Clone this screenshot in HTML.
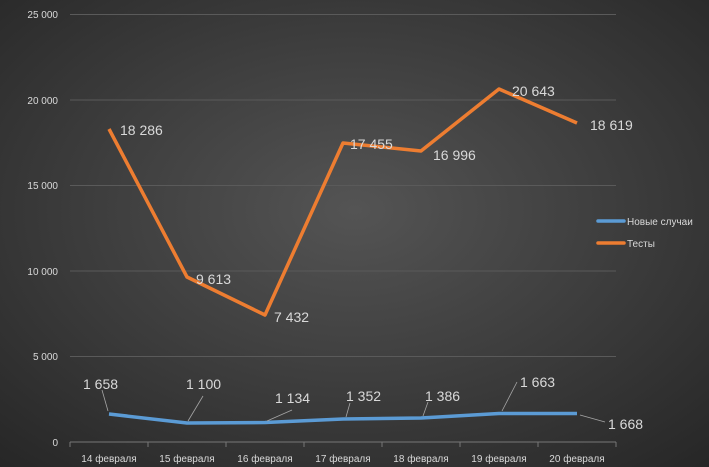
<!DOCTYPE html>
<html><head><meta charset="utf-8"><style>
html,body{margin:0;padding:0;width:709px;height:467px;overflow:hidden;background:#333}
svg{display:block}
text{font-family:"Liberation Sans",Arial,sans-serif}
</style></head><body>
<svg width="709" height="467" viewBox="0 0 709 467">
<defs>
<radialGradient id="bg" cx="50%" cy="45%" r="75%">
<stop offset="0" stop-color="#545454"/>
<stop offset="1" stop-color="#262626"/>
</radialGradient>
</defs>
<rect width="709" height="467" fill="url(#bg)"/>
<g stroke="#5a5a5a" stroke-width="1">
<line x1="70" x2="616" y1="14.5" y2="14.5"/>
<line x1="70" x2="616" y1="100" y2="100"/>
<line x1="70" x2="616" y1="185.5" y2="185.5"/>
<line x1="70" x2="616" y1="271" y2="271"/>
<line x1="70" x2="616" y1="356.5" y2="356.5"/>
</g>
<g stroke="#777" stroke-width="1">
<line x1="70" x2="616" y1="442" y2="442"/>
<line x1="70" x2="70" y1="442" y2="447"/><line x1="148" x2="148" y1="442" y2="447"/>
<line x1="226" x2="226" y1="442" y2="447"/><line x1="304" x2="304" y1="442" y2="447"/>
<line x1="382" x2="382" y1="442" y2="447"/><line x1="460" x2="460" y1="442" y2="447"/>
<line x1="538" x2="538" y1="442" y2="447"/><line x1="616" x2="616" y1="442" y2="447"/>
</g>
<g fill="#d9d9d9" font-size="10" text-anchor="end">
<text x="58" y="18">25 000</text><text x="58" y="104">20 000</text>
<text x="58" y="189">15 000</text><text x="58" y="275">10 000</text>
<text x="58" y="360">5 000</text><text x="58" y="446">0</text>
</g>
<g fill="#d9d9d9" font-size="10" text-anchor="middle">
<text x="109" y="462">14 февраля</text><text x="187" y="462">15 февраля</text>
<text x="265" y="462">16 февраля</text><text x="343" y="462">17 февраля</text>
<text x="421" y="462">18 февраля</text><text x="499" y="462">19 февраля</text>
<text x="577" y="462">20 февраля</text>
</g>
<polyline fill="none" stroke="#ed7d31" stroke-width="3.5" stroke-linejoin="round"
points="109,129 187,277 265,315 343,143 421,151 499,89 577,123"/>
<polyline fill="none" stroke="#5b9bd5" stroke-width="3.5" stroke-linejoin="round"
points="109,414 187,423 265,422.5 343,419 421,418 499,413.5 577,413.5"/>
<g stroke="#a6a6a6" stroke-width="0.8">
<line x1="102" y1="390" x2="108" y2="411"/>
<line x1="203" y1="396" x2="188" y2="421"/>
<line x1="292" y1="410" x2="267" y2="421"/>
<line x1="350" y1="403" x2="346" y2="417"/>
<line x1="428" y1="402" x2="423" y2="416"/>
<line x1="517" y1="382" x2="502" y2="411"/>
<line x1="605" y1="422" x2="580" y2="415"/>
</g>
<g fill="#d9d9d9" font-size="14">
<text x="120" y="135">18 286</text><text x="196" y="284">9 613</text>
<text x="274" y="322">7 432</text><text x="350" y="149">17 455</text>
<text x="433" y="160">16 996</text><text x="512" y="96">20 643</text>
<text x="590" y="130">18 619</text>
<text x="83" y="389">1 658</text><text x="186" y="389">1 100</text>
<text x="275" y="403">1 134</text><text x="346" y="401">1 352</text>
<text x="425" y="401">1 386</text><text x="520" y="387">1 663</text>
<text x="608" y="429">1 668</text>
</g>
<line x1="598" x2="624" y1="221" y2="221" stroke="#5b9bd5" stroke-width="3.5" stroke-linecap="round"/>
<line x1="598" x2="624" y1="243" y2="243" stroke="#ed7d31" stroke-width="3.5" stroke-linecap="round"/>
<g fill="#d9d9d9" font-size="10">
<text x="627" y="225">Новые случаи</text><text x="627" y="247">Тесты</text>
</g>
</svg>
</body></html>
